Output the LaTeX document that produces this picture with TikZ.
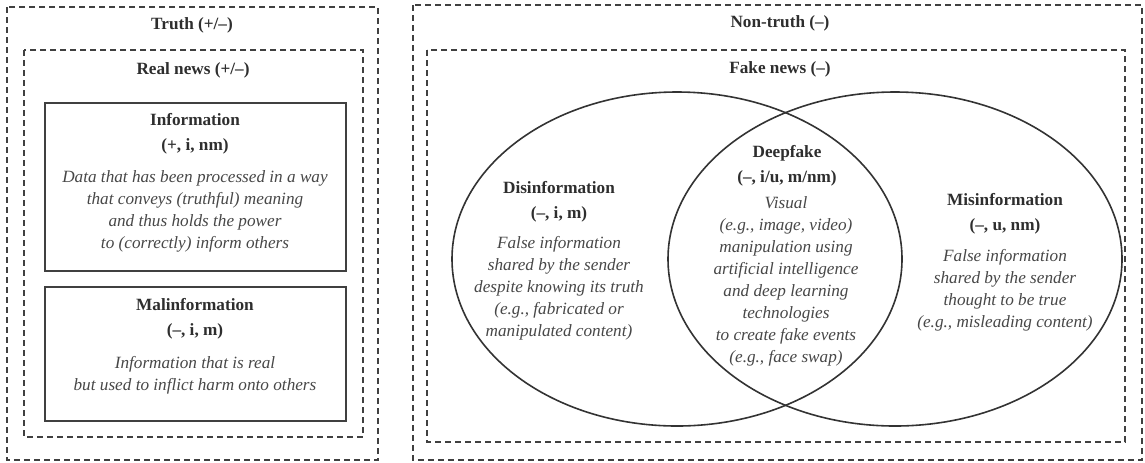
\documentclass[tikz,border=0pt]{standalone}
\usepackage{fontspec}
\setmainfont{Liberation Serif}

\tikzset{
  zone/.style={draw=black!75, line width=0.75pt, dash pattern=on 3pt off 2pt},
  panel/.style={draw=black!75, line width=1pt},
  oval/.style={draw=black!80, line width=0.8pt},
  heading/.style={font=\fontsize{8.6}{12.5}\selectfont\bfseries, text=black!82, align=center},
  gloss/.style={font=\fontsize{8.6}{11}\selectfont\itshape, text=black!72, align=center}
}

\begin{document}
\begin{tikzpicture}[x=0.5pt, y=-0.5pt]
\useasboundingbox (0,0) rectangle (1145,462);

% Truth side
\draw[zone] (7,7) rectangle (378,460);
\draw[zone] (24,50) rectangle (363,437);
\draw[panel] (45,103) rectangle (346,271);
\draw[panel] (45,287) rectangle (346,421);

\node[heading] (truth) at (192,25) {Truth (+/--)};
\node[heading] (realnews) at (193,70) {Real news (+/--)};

\node[heading] (info) at (195,133.5) {Information\\(+, i, nm)};
\node[gloss] (infotext) at (195,211) {Data that has been processed in a way\\that conveys (truthful) meaning\\and thus holds the power\\to (correctly) inform others};

\node[heading] (malinfo) at (195,319) {Malinformation\\(--, i, m)};
\node[gloss] (malinfotext) at (195,375.5) {Information that is real\\but used to inflict harm onto others};

% Non-truth side
\draw[zone] (413,5) rectangle (1142,460);
\draw[zone] (427,50) rectangle (1125,442);

\node[heading] (nontruth) at (780,23) {Non-truth (--)};
\node[heading] (fakenews) at (780,69) {Fake news (--)};

% Two overlapping sets
\draw[oval] (677,259) ellipse [x radius=225, y radius=167];
\draw[oval] (895,259) ellipse [x radius=227, y radius=167];

\node[heading] (disinfo) at (559,201.5) {Disinformation\\(--, i, m)};
\node[gloss] (disinfotext) at (559,288) {False information\\shared by the sender\\despite knowing its truth\\(e.g., fabricated or\\manipulated content)};

\node[heading] (deepfake) at (787,165.5) {Deepfake\\(--, i/u, m/nm)};
\node[gloss] (deepfaketext) at (786,281) {Visual\\(e.g., image, video)\\manipulation using\\artificial intelligence\\and deep learning\\technologies\\to create fake events\\(e.g., face swap)};

\node[heading] (misinfo) at (1005,213.5) {Misinformation\\(--, u, nm)};
\node[gloss] (misinfotext) at (1005,290.5) {False information\\shared by the sender\\thought to be true\\(e.g., misleading content)};

\end{tikzpicture}
\end{document}
